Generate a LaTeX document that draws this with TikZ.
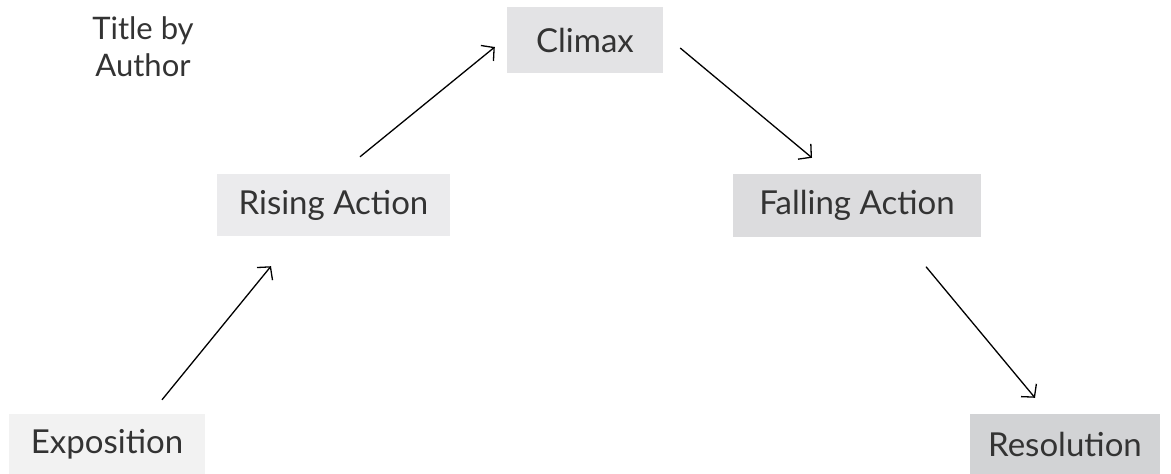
\documentclass[tikz,border=0pt]{standalone}
\usepackage{fontspec}
\setmainfont{Lato}
\usetikzlibrary{arrows.meta}
\begin{document}
\begin{tikzpicture}[x=1pt,y=-1pt,
  stage/.style={inner sep=0pt, minimum width=#1, font=\fontsize{33}{38}\selectfont, text=black!80},
  conn/.style={line width=1.3pt, -{Straight Barb[length=9pt,width=20pt,line width=1.3pt]}}]
\useasboundingbox (0,0) rectangle (1171,474);
\node[stage=196pt, minimum height=60pt, fill={rgb,255:red,242;green,242;blue,242}] (expo) at (107,444) {Exposition};
\node[stage=233pt, minimum height=62pt, fill={rgb,255:red,235;green,235;blue,237}] (rising) at (333.5,205) {Rising Action};
\node[stage=156pt, minimum height=66pt, fill={rgb,255:red,227;green,227;blue,229}] (climax) at (585,40) {Climax};
\node[stage=248pt, minimum height=63pt, fill={rgb,255:red,220;green,220;blue,222}] (falling) at (857,205.5) {Falling Action};
\node[stage=190pt, minimum height=60pt, fill={rgb,255:red,210;green,211;blue,213}] (resol) at (1065,444) {Resolution};
\node[align=center, inner sep=0pt, font=\fontsize{31}{37}\selectfont, text=black!80] (title) at (143,47) {Title by\\Author};
\draw[conn] ([shift={(55,-14)}]expo.north) -- ([shift={(-62.5,30)}]rising.south);
\draw[conn] ([shift={(26.5,-17)}]rising.north) -- ([shift={(-12,7)}]climax.west);
\draw[conn] ([shift={(17,8)}]climax.east) -- ([shift={(-45,-16)}]falling.north);
\draw[conn] ([shift={(69,29.5)}]falling.south) -- ([shift={(-30,-16)}]resol.north);
\end{tikzpicture}
\end{document}
